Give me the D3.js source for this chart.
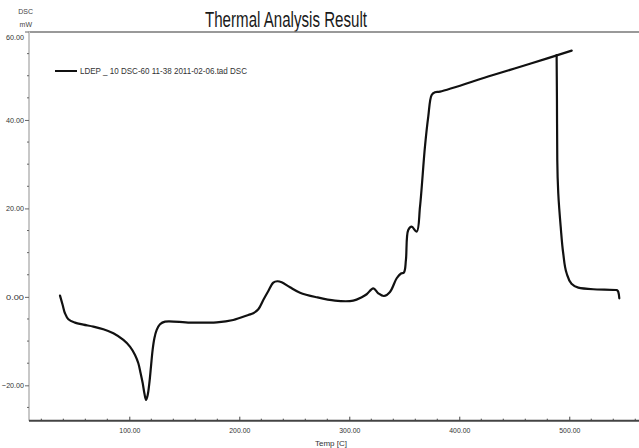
<!DOCTYPE html>
<html>
<head>
<meta charset="utf-8">
<script src="https://cdn.jsdelivr.net/npm/d3@7"></script>
<style>
  body { margin: 0; background: #fff; }
  svg { display: block; }
  text { font-family: "Liberation Sans Narrow", "Arial Narrow", "Liberation Sans", sans-serif; }
</style>
</head>
<body>
<div id="chart"></div>
<script>
// DSC curve: temperature (C) and heat flow (mW)
const temps = [37.0, 39.4, 41.5, 44.6, 50.6, 58.2, 67.3, 76.4, 85.5, 94.6, 100.6, 105.2, 108.2, 110.3,
    112.2, 113.7, 115.2, 116.7, 118.2, 119.7, 121.2, 122.8, 124.9, 127.9, 132.5, 155.2, 179.5, 194.5,
    208.2, 212.7, 217.3, 221.8, 226.4, 230.9, 234.6, 238.5, 246.1, 255.2, 270.4, 287.0, 303.6, 311.3,
    315.8, 321.8, 326.4, 331.5, 337.0, 343.1, 347.0, 349.7, 351.5, 353.6, 356.7, 361.3, 364.3, 368.8,
    371.8, 374.9, 377.9, 382.5, 430.0, 464.3, 502.2,
    488.5, 488.8, 489.1, 490.0, 492.2, 494.5, 497.6, 502.2, 508.2, 521.8, 543.1, 544.5, 545.5]
const dscValues = [0.28, -1.83, -3.71, -5.07, -5.83, -6.28, -6.73, -7.33, -8.24, -9.74, -11.25, -13.14, -15.02, -17.28,
    -19.54, -21.80, -23.31, -22.18, -19.54, -15.77, -12.0, -9.37, -7.48, -6.20, -5.60, -5.83, -5.75, -5.22,
    -4.09, -3.71, -2.80, -0.70, 1.33, 3.21, 3.53, 3.30, 2.17, 0.95, -0.09, -0.86, -0.86, -0.09,
    0.59, 1.94, 0.81, 0.20, 1.11, 4.21, 5.29, 5.52, 8.34, 15.13, 15.87, 14.74, 20.39, 33.96,
    40.74, 45.65, 46.26, 46.39, 50.1, 52.7, 55.67,
    54.69, 44.5, 30.95, 23.42, 15.87, 9.86, 5.34, 2.92, 2.08, 1.72, 1.56, 1.18, -0.32]

const xTicks = [100, 200, 300, 400, 500]
const xMinorTicks = [20, 40, 60, 80, 120, 140, 160, 180, 220, 240, 260, 280, 320, 340, 360, 380, 420, 440, 460, 480, 520, 540, 560]
const yTicks = [-20, 0, 20, 40, 60]
const yMinorTicks = [-25, -15, -10, -5, 5, 10, 15, 25, 30, 35, 45, 50, 55]

const legendLabel = "LDEP _ 10 DSC-60 11-38 2011-02-06.tad DSC"

document.addEventListener("DOMContentLoaded", () => {
    let width = 639,
        height = 448

    let svg = d3.select('#chart')
        .append('svg')
        .attr("width", width)
        .attr("height", height)

    let x = d3.scaleLinear().domain([8.8, 563.4]).range([29, 639])
    let y = d3.scaleLinear().domain([-28, 60]).range([420.7, 31.5])

    // title and the rule under it
    svg.append("text")
        .attr("x", 205)
        .attr("y", 26.5)
        .attr("font-size", 22)
        .attr("textLength", 162)
        .attr("lengthAdjust", "spacingAndGlyphs")
        .attr("fill", "#1a1a1a")
        .text("Thermal Analysis Result")

    svg.append("line")
        .attr("x1", 29).attr("x2", width)
        .attr("y1", 32).attr("y2", 32)
        .attr("stroke", "#777")
        .attr("stroke-width", 1.5)

    // unit label
    svg.append("text").attr("x", 33).attr("y", 14).attr("font-size", 7)
        .attr("text-anchor", "end").attr("fill", "#444").text("DSC")
    svg.append("text").attr("x", 32).attr("y", 27).attr("font-size", 7)
        .attr("text-anchor", "end").attr("fill", "#444").text("mW")

    // y axis
    let yAxis = svg.append("g")
        .attr("transform", "translate(29,0)")
        .call(d3.axisLeft(y).tickValues(yTicks).tickSize(4).tickPadding(1).tickFormat(d3.format(".2f")))
    yAxis.select(".domain").attr("stroke", "#c8c8c8").attr("stroke-width", 2)
        .attr("d", "M0," + y(60) + "V" + y(-28))
    yAxis.selectAll(".tick line").attr("stroke", "#666")
    yAxis.selectAll(".tick text").attr("font-size", 8).attr("fill", "#333")
        .attr("textLength", d => d < 0 ? 22 : 18).attr("lengthAdjust", "spacingAndGlyphs")
    yAxis.selectAll(".tick").filter(d => d === 60).select("text").attr("dy", "0.95em")

    svg.append("g").selectAll("line")
        .data(yMinorTicks)
        .enter().append("line")
        .attr("x1", 27).attr("x2", 29)
        .attr("y1", d => y(d)).attr("y2", d => y(d))
        .attr("stroke", "#666")

    // x axis
    let xAxis = svg.append("g")
        .attr("transform", "translate(0," + y(-28) + ")")
        .call(d3.axisBottom(x).tickValues(xTicks).tickSize(-4).tickPadding(7).tickFormat(d3.format(".2f")))
    xAxis.select(".domain").attr("stroke", "#444").attr("stroke-width", 2)
        .attr("d", "M29,0H" + width)
    xAxis.selectAll(".tick line").attr("stroke", "#444")
    xAxis.selectAll(".tick text").attr("font-size", 8).attr("fill", "#333")
        .attr("textLength", 21).attr("lengthAdjust", "spacingAndGlyphs")

    xAxis.append("g").selectAll("line")
        .data(xMinorTicks)
        .enter().append("line")
        .attr("x1", d => x(d)).attr("x2", d => x(d))
        .attr("y1", 0).attr("y2", -2)
        .attr("stroke", "#444")

    svg.append("text")
        .attr("x", 331)
        .attr("y", 446)
        .attr("font-size", 8)
        .attr("text-anchor", "middle")
        .attr("fill", "#333")
        .text("Temp [C]")

    // legend
    svg.append("line")
        .attr("x1", 55).attr("x2", 77)
        .attr("y1", 71).attr("y2", 71)
        .attr("stroke", "#111")
        .attr("stroke-width", 2)
    svg.append("text")
        .attr("x", 80)
        .attr("y", 74)
        .attr("font-size", 9)
        .attr("textLength", 167)
        .attr("lengthAdjust", "spacingAndGlyphs")
        .attr("fill", "#333")
        .text(legendLabel)

    // the curve: heating run, then the drop once the temperature steps back
    let points = temps.map((t, i) => [t, dscValues[i]])
    let turn = temps.findIndex((t, i) => i > 0 && t < temps[i - 1])

    let riseLine = d3.line()
        .x(d => x(d[0]))
        .y(d => y(d[1]))
        .curve(d3.curveCatmullRom.alpha(0.5))

    // the drop only ever goes down, so a monotone-in-y curve keeps it from bulging
    let dropLine = d3.line()
        .x(d => x(d[0]))
        .y(d => y(d[1]))
        .curve(d3.curveMonotoneY)

    let segments = [
        { pts: points.slice(0, turn), gen: riseLine },
        { pts: points.slice(turn), gen: dropLine }
    ]

    svg.selectAll(".dsc")
        .data(segments)
        .enter().append("path")
        .attr("class", "dsc")
        .attr("d", d => d.gen(d.pts))
        .attr("fill", "none")
        .attr("stroke", "#111")
        .attr("stroke-width", 2.2)
        .attr("stroke-linejoin", "round")
        .attr("stroke-linecap", "round")
})
</script>
</body>
</html>
